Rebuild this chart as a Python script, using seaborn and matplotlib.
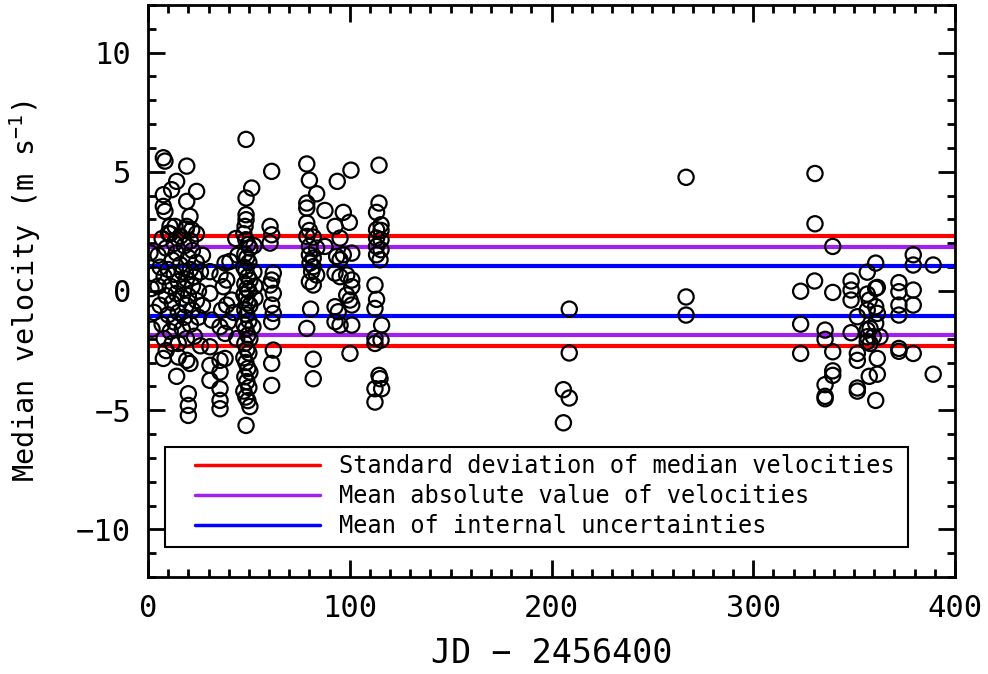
import matplotlib
matplotlib.use("Agg")
import matplotlib.pyplot as plt
import seaborn as sns
import pandas as pd
from matplotlib.ticker import MultipleLocator
from matplotlib.lines import Line2D
from matplotlib.patches import Rectangle

# ---------------- data ----------------
jd_a = [7.6, 8.4, 19.2, 14.2, 11.7, 24.1, 7.6, 19.2, 7.6, 8.4, 20.8, 10.9, 13.4, 19.2, 21.7, 10.1,
        1.0, 1.5, 2.0, 3, 3, 5, 5, 6, 6, 7, 7, 8, 8, 9, 9, 10, 10, 11, 11, 11, 12, 12, 13, 13, 13,
        14, 14, 15, 15, 15, 16, 16, 17, 17, 17, 18, 18, 18, 19, 19, 19, 19, 20, 20, 21, 21, 21,
        22, 22, 22, 23, 23, 24, 24, 24, 25, 25, 26, 26, 27, 27, 9, 12,
        7.6, 15, 19.2, 20.8, 14.2, 20, 20, 20]
vel_a = [5.59, 5.45, 5.24, 4.6, 4.25, 4.18, 4.04, 3.76, 3.55, 3.34, 3.13, 2.71, 2.71, 2.71, 2.57, 2.43,
         1.6, 0.1, -1.6, 0.7, -0.9, 1.5, 0.2, -0.6, 1.0, 2.2, -1.4, 0.6, -2.0, 1.8, -0.2, 0.9, -1.0,
         2.4, 0.2, -1.7, 1.3, -0.5, 0.7, -1.3, 2.0, -0.1, 1.6, 0.4, -2.2, -0.9, 1.1, 2.3, -0.3, 0.8,
         -1.6, 1.9, 0.1, -1.1, 2.6, 0.5, -0.6, -2.0, 1.4, -0.2, 0.9, -1.4, 2.1, 0.2, -0.8, 1.7,
         -1.9, 0.6, 1.2, -0.4, 2.4, -1.1, 0.0, 0.8, -2.3, 1.5, -0.6, -2.5, -2.2,
         -2.83, -2.77, -2.91, -3.04, -3.58, -4.31, -4.8, -5.22]

jd_b = [30.7, 38.2, 40.6, 35.7, 39.0, 37.3, 30.7, 41.5, 39.0, 36.5, 31.6, 39.8, 35.7, 38.2, 30.7,
        38.2, 35.7, 30.7, 35.7, 30.7, 35.7, 35.7, 35.7, 43.5, 44.5, 42.5, 44.0]
vel_b = [0.81, 1.17, 1.24, 0.67, 0.46, 0.18, -0.1, -0.38, -0.59, -0.8, -1.22, -1.29, -1.5, -1.78,
         -2.34, -2.83, -2.91, -3.12, -3.4, -3.75, -4.1, -4.59, -4.94, 2.2, 1.5, -0.9, -2.0]

jd_c = [48.6, 61.3, 51.4, 48.6, 48.6, 48.6, 48.1,
        47.5, 48.5, 49.5, 50.5, 48.0, 49.0, 50.0, 47.5, 48.5, 49.5, 50.5, 48.0, 49.0, 50.0,
        47.5, 48.5, 49.5, 50.5, 48.0, 49.0, 50.0, 47.5, 48.5, 49.5, 50.5, 48.0, 49.0, 50.0,
        47.5, 48.5, 49.5, 50.5, 48.0, 49.0, 50.0, 47.5, 48.5, 49.5, 50.5, 48.6,
        52.5, 52.5, 53.0, 52.0, 53.0]
vel_c = [6.36, 5.02, 4.32, 3.9, 3.2, 2.99, 2.71,
         2.4, 2.15, 1.95, 1.8, 1.55, 1.4, 1.2, 1.0, 0.85, 0.6, 0.45, 0.3, 0.1, 0.0,
         -0.15, -0.3, -0.5, -0.6, -0.8, -1.0, -1.25, -1.4, -1.6, -1.85, -2.0, -2.2, -2.45, -2.6,
         -2.8, -3.0, -3.25, -3.4, -3.6, -3.8, -4.05, -4.2, -4.45, -4.6, -4.85, -5.64,
         1.9, 0.8, -0.3, -1.5, 0.2]

jd_d = [60.5, 61.3, 60.5, 62.1, 61.3, 60.5, 62.1, 61.3, 62.1, 61.3, 62.1, 61.3, 61.3]
vel_d = [2.71, 2.36, 2.01, 0.75, 0.46, 0.25, -0.1, -0.59, -0.94, -1.29, -2.48, -3.04, -3.96]

jd_e = [78.7, 80.0, 83.6, 78.7, 78.7, 87.7, 78.7, 80.0, 78.7, 81.9, 80.0, 83.6, 87.7, 80.0,
        81.9, 80.3, 81.9, 81.1, 83.6, 80.0, 81.9, 80.6, 78.7, 81.9, 81.9]
vel_e = [5.33, 4.65, 4.08, 3.69, 3.48, 3.38, 2.85, 2.54, 2.29, 2.26, 1.87, 1.8, 1.87, 1.52,
         1.38, 1.17, 1.02, 0.81, 0.67, 0.39, 0.25, -0.76, -1.57, -2.86, -3.68]

jd_f = [100.6, 93.8, 96.8, 99.8, 92.7, 95.2, 101.0, 96.8, 93.5, 95.2, 92.7, 95.2, 98.5, 101.0,
        101.0, 98.5, 100.1, 101.0, 92.7, 94.3, 92.7, 95.2, 101.0, 100.1]
vel_f = [5.07, 4.6, 3.3, 2.88, 2.71, 2.22, 1.59, 1.52, 1.45, 1.31, 0.75, 0.6, 0.67, 0.46,
         0.18, -0.17, -0.38, -0.59, -0.66, -0.87, -1.29, -1.43, -1.43, -2.62]

jd_g = [114.5, 114.5, 113.3, 115.5, 113.3, 115.5, 113.3, 115.5, 113.3, 115.5, 113.3, 115.0,
        112.5, 113.3, 112.5, 115.8, 112.5, 115.5, 112.5, 114.5, 115.0, 112.5, 115.8, 112.5]
vel_g = [5.28, 3.69, 3.3, 2.78, 2.57, 2.54, 2.22, 2.15, 1.87, 1.73, 1.52, 1.31,
         0.25, -0.35, -0.73, -1.43, -1.99, -2.06, -2.2, -3.54, -3.68, -4.1, -4.1, -4.66]

jd_h = [266.7, 266.7, 266.7, 208.8, 208.8, 205.9, 208.8, 205.9]
vel_h = [4.77, -0.25, -1.01, -0.76, -2.6, -4.14, -4.49, -5.53]

jd_j = [330.6, 330.6, 339.4, 323.5, 330.4, 339.4, 323.5, 323.5, 335.6, 335.6, 339.4, 339.4,
        339.4, 335.6, 335.6, 335.6, 348.5, 348.5, 348.5, 351.6, 348.5, 351.6, 351.6, 351.6,
        351.6, 356.5, 360.7, 356.5, 357.5, 360.7, 361.5, 360.7, 361.5, 356.5, 360.7, 356.5,
        357.9, 356.5, 359.5, 362.8, 356.5, 357.9, 361.5, 357.5, 361.5, 360.7, 372.2, 372.2,
        379.3, 372.2, 379.3, 372.2, 372.2, 372.2, 379.3, 379.3, 379.3, 389.2, 389.2]
vel_j = [4.93, 2.82, 1.87, -0.01, 0.42, -0.06, -1.39, -2.62, -1.64, -2.03, -2.55, -3.35,
         -3.54, -3.93, -4.42, -4.52, 0.42, 0.04, -0.38, -1.08, -1.75, -2.62, -2.91, -4.07,
         -4.2, 0.79, 1.17, -0.13, -0.38, 0.11, 0.15, -0.66, -0.94, -0.8, -1.36, -1.64,
         -1.57, -1.92, -1.92, -1.92, -2.13, -2.2, -2.83, -3.58, -3.49, -4.59, 0.35, -0.03,
         0.04, -0.59, -0.59, -1.01, -2.41, -2.53, -2.62, 1.52, 1.09, 1.09, -3.49]

jd = jd_a + jd_b + jd_c + jd_d + jd_e + jd_f + jd_g + jd_h + jd_j
vel = vel_a + vel_b + vel_c + vel_d + vel_e + vel_f + vel_g + vel_h + vel_j

line_labels = ["Standard deviation of median velocities",
               "Mean absolute value of velocities",
               "Mean of internal uncertainties"]
line_values = [2.30, 1.83, 1.03]
line_colors = ["#ff0000", "#a020f0", "#0000ff"]

x_ticks = [0, 100, 200, 300, 400]
y_ticks = [-10, -5, 0, 5, 10]

# ---------------- plot ----------------
sns.set_style("ticks")
FONT = ["DejaVu Sans Mono", "DejaVu Sans"]
plt.rcParams["font.family"] = FONT
plt.rcParams["mathtext.fontset"] = "custom"
plt.rcParams["mathtext.rm"] = "DejaVu Sans Mono"
for k in ["text.color", "axes.labelcolor", "xtick.color", "ytick.color", "axes.edgecolor"]:
    plt.rcParams[k] = "black"

fig = plt.figure(figsize=(9.88, 6.74), dpi=100)
ax = fig.add_axes([0.1498, 0.1439, 0.8168, 0.8487])

df = pd.DataFrame({"jd": jd, "vel": vel})
sns.scatterplot(data=df, x="jd", y="vel", ax=ax, s=120, marker="o",
                facecolors="none", edgecolor="black", linewidth=1.6, zorder=3)

for v, c in zip(line_values, line_colors):
    ax.axhline(v, color=c, lw=3, zorder=2)
    ax.axhline(-v, color=c, lw=3, zorder=2)

ax.set_xlim(0, 400)
ax.set_ylim(-12, 12)
ax.set_xticks(x_ticks)
ax.set_yticks(y_ticks)
ax.xaxis.set_minor_locator(MultipleLocator(10))
ax.yaxis.set_minor_locator(MultipleLocator(1))
ax.tick_params(which="both", direction="in", top=True, right=True, width=2, labelsize=22, pad=12)
ax.tick_params(which="major", length=12)
ax.tick_params(which="minor", length=6)
ax.set_yticklabels(["\u221210", "\u22125", "0", "5", "10"])
for sp in ax.spines.values():
    sp.set_linewidth(2)

ax.set_xlabel("JD \u2212 2456400", fontsize=24, labelpad=10)
ax.set_ylabel(r"Median velocity (m s$\mathregular{^{-1}}$)", fontsize=20.5, labelpad=24)

# legend box (drawn as a plain rectangle in axes coordinates)
ax.add_patch(Rectangle((0.0211, 0.0524), 0.9207, 0.1749, transform=ax.transAxes,
                       facecolor="white", edgecolor="black", lw=1.5, zorder=4))
handles = [Line2D([0], [0], color=c, lw=2.5) for c in line_colors]
leg = ax.legend(handles, line_labels, loc="lower left", bbox_to_anchor=(0.0582, 0.068),
                fontsize=17, frameon=False,
                handlelength=5.3, handletextpad=0.8, labelspacing=0.25, borderpad=0,
                borderaxespad=0)
leg.set_zorder(5)

fig.savefig("out.png", dpi=100, facecolor="white")
